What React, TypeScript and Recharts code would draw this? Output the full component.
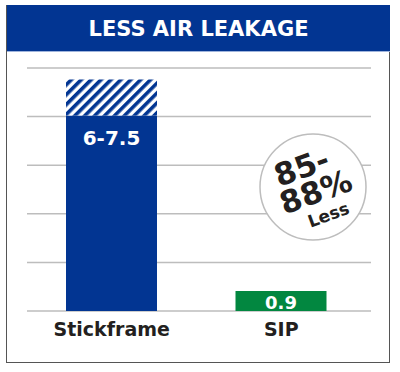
import { BarChart, Bar, XAxis, YAxis, CartesianGrid, Cell, LabelList } from "recharts";

// values on a 0-10 grid (5 gridlines above baseline)
const categories = ["Stickframe", "SIP"];
const solidValues = [8.05, 0.82];
const hatchValues = [1.48, 0];
const barLabels = ["6-7.5", "0.9"];
const barColors = ["#023592", "#028740"];
const gridTicks = [0, 2, 4, 6, 8, 10];
const calloutLines = ["85-", "88%", "Less"];

const FONT = "'DejaVu Sans', sans-serif";

const data = categories.map((name, i) => ({
  name,
  solid: solidValues[i],
  hatch: hatchValues[i],
  label: barLabels[i],
}));

function BarValue(props: any) {
  const { x, y, width, height, index } = props;
  const isSmall = index === 1;
  const cy = isSmall ? y + height / 2 + 1 : y + 23;
  return (
    <text
      x={x + width / 2}
      y={cy}
      textAnchor="middle"
      dominantBaseline="central"
      fill="#fff"
      fontFamily={FONT}
      fontWeight={700}
      fontSize={isSmall ? 18 : 20}
    >
      {barLabels[index]}
    </text>
  );
}

export default function App() {
  return (
    <div style={{ position: "absolute", left: 0, top: 0, width: 400, height: 372, background: "#fff" }}>
      <div
        style={{
          position: "absolute",
          left: 6,
          top: 5,
          width: 384,
          height: 358,
          border: "1.5px solid #555",
          boxSizing: "border-box",
        }}
      />
      <div
        style={{
          position: "absolute",
          left: 7,
          top: 5,
          width: 383,
          height: 46,
          background: "#023592",
          color: "#fff",
          fontFamily: FONT,
          fontWeight: 700,
          fontSize: 21,
          lineHeight: "48px",
          textAlign: "center",
          borderBottom: "1px solid #9fb4dc",
        }}
      >
        LESS AIR LEAKAGE
      </div>
      <div style={{ position: "absolute", left: 0, top: 0 }}>
        <BarChart width={400} height={372} data={data} margin={{ top: 68, right: 29, left: 27, bottom: 31 }} barSize={91}>
          <defs>
            <pattern id="hatch" width="7" height="7" patternUnits="userSpaceOnUse" patternTransform="rotate(45)">
              <rect width="7" height="7" fill="#fff" />
              <rect width="3.6" height="7" fill="#023592" />
            </pattern>
          </defs>
          <CartesianGrid vertical={false} stroke="#bdbdbd" strokeWidth={1.5} />
          <YAxis hide domain={[0, 10]} ticks={gridTicks} />
          <XAxis
            dataKey="name"
            axisLine={false}
            tickLine={false}
            padding={{ left: 0, right: 5 }}
            tick={{ fill: "#231f20", fontFamily: FONT, fontWeight: 700, fontSize: 19 }}
            dy={4}
          />
          <Bar dataKey="solid" stackId="a" isAnimationActive={false}>
            {data.map((d, i) => (
              <Cell key={d.name} fill={barColors[i]} />
            ))}
            <LabelList dataKey="label" content={<BarValue />} />
          </Bar>
          <Bar dataKey="hatch" stackId="a" fill="url(#hatch)" isAnimationActive={false} />
        </BarChart>
      </div>
      <svg style={{ position: "absolute", left: 0, top: 0 }} width={400} height={372}>
        <circle cx={313} cy={187} r={53} fill="#fff" stroke="#bdbdbd" strokeWidth={1.5} />
        <g transform="translate(314 187) rotate(-20)" fontFamily={FONT} fontWeight={700} fill="#231f20" textAnchor="middle">
          <text x={-5} y={-12} fontSize={31}>{calloutLines[0]}</text>
          <text x={0} y={16} fontSize={31}>{calloutLines[1]}</text>
          <text x={4} y={37} fontSize={17}>{calloutLines[2]}</text>
        </g>
      </svg>
    </div>
  );
}
